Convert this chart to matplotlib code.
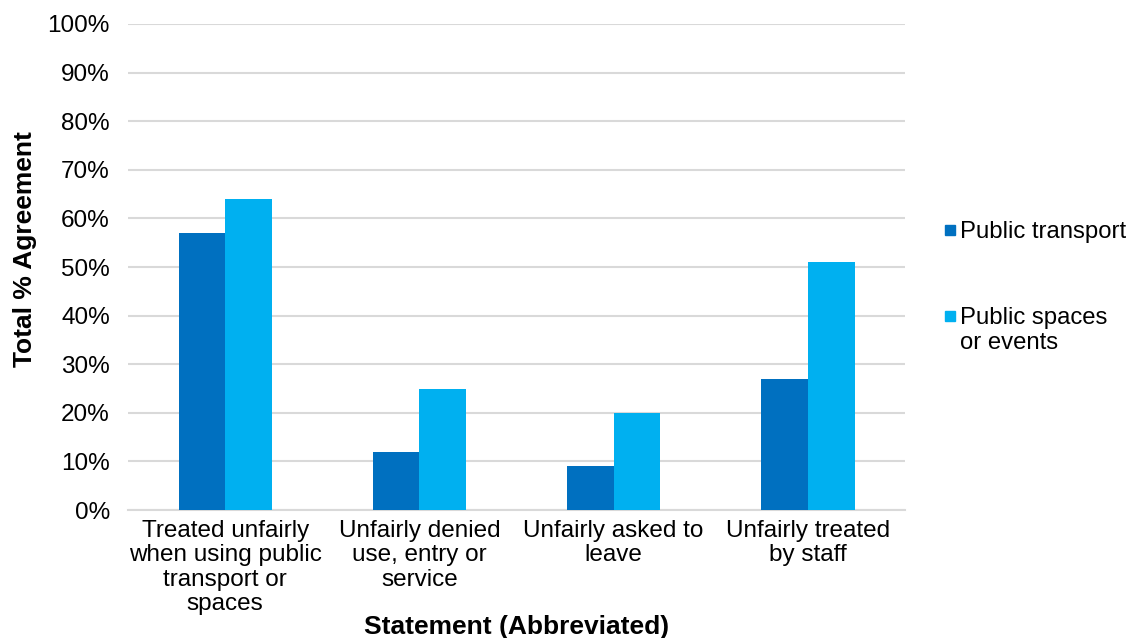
import matplotlib
matplotlib.use("Agg")
import matplotlib.pyplot as plt
import numpy as np
from matplotlib.patches import Rectangle

categories = ["Treated unfairly\nwhen using public\ntransport or\nspaces",
              "Unfairly denied\nuse, entry or\nservice",
              "Unfairly asked to\nleave",
              "Unfairly treated\nby staff"]
series_names = ["Public transport", "Public spaces\nor events"]
public_transport = [57, 12, 9, 27]
public_spaces = [64, 25, 20, 51]
yticks = [0, 10, 20, 30, 40, 50, 60, 70, 80, 90, 100]

plt.rcParams['font.family'] = ['Liberation Sans', 'DejaVu Sans']

W, H = 1130, 638
fig = plt.figure(figsize=(W / 100, H / 100), dpi=100)
ax = fig.add_axes([0.1133, 0.2006, 0.6876, 0.7618])

x = np.arange(len(categories))
w = 0.24
colors = ["#0070C0", "#00B0F0"]
ax.bar(x - w/2, public_transport, w, color=colors[0], zorder=3)
ax.bar(x + w/2, public_spaces, w, color=colors[1], zorder=3)

ax.set_xlim(-0.5, len(categories) - 0.5)
ax.set_ylim(0, 100)
ax.set_yticks(yticks)
ax.set_yticklabels([f"{v}%" for v in yticks])
ax.set_xticks(x)
ax.set_xticklabels(categories, linespacing=1.15)
ax.tick_params(axis='both', length=0, labelsize=17.5, colors='black')
ax.tick_params(axis='y', pad=13)
ax.tick_params(axis='x', pad=7)
ax.grid(axis='y', color='#D9D9D9', linewidth=1.5, zorder=0)
for s in ['top', 'right', 'left']:
    ax.spines[s].set_visible(False)
ax.spines['bottom'].set_color('#D9D9D9')
ax.spines['bottom'].set_linewidth(1.5)

fig.text(0.022, 0.61, "Total % Agreement", rotation=90, fontsize=19,
         fontweight='bold', ha='center', va='center')
fig.text(0.457, 0.018, "Statement (Abbreviated)", fontsize=19,
         fontweight='bold', ha='center', va='center')

# legend (manual, markers aligned with first text line)
leg_y = [230, 316]
for name, col, yy in zip(series_names, colors, leg_y):
    fig.add_artist(Rectangle((945 / W, 1 - (yy + 5) / H), 10 / W, 10 / H,
                             transform=fig.transFigure, color=col))
    fig.text(960 / W, 1 - (yy - 9) / H, name, fontsize=17.2, ha='left',
             va='top', linespacing=1.15)

fig.savefig("out.png", dpi=100)
